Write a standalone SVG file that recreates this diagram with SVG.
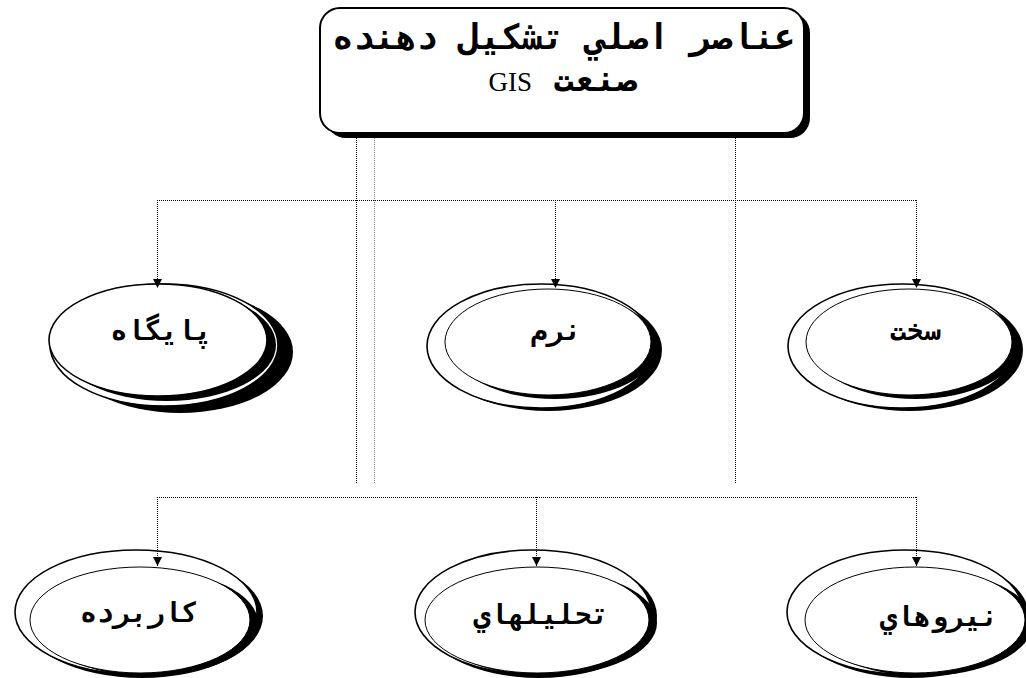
<svg xmlns="http://www.w3.org/2000/svg" width="1026" height="678" viewBox="0 0 1026 678">
<defs>
<style>
.dot{fill:none;stroke:#000;stroke-width:1;stroke-dasharray:1 1;shape-rendering:crispEdges}
.dotg{fill:none;stroke:#888;stroke-width:1;stroke-dasharray:1 1;shape-rendering:crispEdges}
.sh{fill:#000}
.ow{fill:#fff;stroke:#000;stroke-width:1.6}
.iw{fill:#fff;stroke:#000;stroke-width:1}
.lbl{font-family:"DejaVu Sans Mono","DejaVu Sans",sans-serif;font-weight:bold;font-size:28px;fill:#000}
.ttl{font-family:"DejaVu Sans Mono","DejaVu Sans",sans-serif;font-weight:bold;font-size:35px;fill:#000}
.gis{font-family:"Liberation Serif",serif;font-weight:normal;font-size:27px}
</style>
<marker id="ah" viewBox="0 0 10 10" refX="10" refY="5" markerWidth="10" markerHeight="9" orient="auto" markerUnits="userSpaceOnUse">
<path d="M0,0 L10,5 L0,10 Z" fill="#000"/>
</marker>
</defs>
<rect width="1026" height="678" fill="#fff"/>

<g id="title">
<rect x="326" y="13" width="484" height="125" rx="20" class="sh"/>
<rect x="320" y="8" width="484" height="125" rx="20" fill="#fff" stroke="#000" stroke-width="2"/>
<text class="ttl" x="564" y="49" text-anchor="middle" direction="rtl">عناصر اصلي تشكيل دهنده</text>
<text class="ttl" x="563" y="91" text-anchor="middle" direction="rtl">صنعت <tspan class="gis">GIS</tspan></text>
</g>

<g id="node-database">
<ellipse cx="180" cy="352" rx="113" ry="61" class="sh"/>
<ellipse cx="164" cy="345" rx="114" ry="61" class="ow"/>
<ellipse cx="167" cy="345" rx="109" ry="56" class="sh"/>
<ellipse cx="158" cy="340" rx="109" ry="56" class="ow"/>
<text class="lbl" x="161" y="340" text-anchor="middle" direction="rtl">پايگاه</text>
</g>

<g id="node-software">
<ellipse cx="548" cy="350" rx="114" ry="61" class="sh"/>
<ellipse cx="541" cy="346" rx="114" ry="62" class="ow"/>
<ellipse cx="555" cy="346" rx="103" ry="53" class="sh"/>
<ellipse cx="548" cy="342" rx="103" ry="53" class="iw"/>
<text class="lbl" x="556" y="340" text-anchor="middle" direction="rtl">نرم</text>
</g>

<g id="node-hardware">
<ellipse cx="909" cy="350" rx="114" ry="61" class="sh"/>
<ellipse cx="902" cy="346" rx="114" ry="62" class="ow"/>
<ellipse cx="916" cy="346" rx="103" ry="53" class="sh"/>
<ellipse cx="909" cy="342" rx="103" ry="53" class="iw"/>
<text class="lbl" x="915" y="340" text-anchor="middle" direction="rtl">سخت</text>
</g>

<g id="node-applications">
<ellipse cx="142" cy="616" rx="121" ry="62" class="sh"/>
<ellipse cx="136" cy="612" rx="121" ry="62" class="ow"/>
<ellipse cx="148" cy="623" rx="110" ry="53" class="sh"/>
<ellipse cx="140" cy="620" rx="110" ry="53" class="iw"/>
<text class="lbl" x="139" y="622" text-anchor="middle" direction="rtl">كاربرده</text>
</g>

<g id="node-analysis">
<ellipse cx="539" cy="616" rx="118" ry="62" class="sh"/>
<ellipse cx="533" cy="612" rx="118" ry="62" class="ow"/>
<ellipse cx="545" cy="623" rx="112" ry="53" class="sh"/>
<ellipse cx="537" cy="620" rx="112" ry="53" class="iw"/>
<text class="lbl" x="541" y="624" text-anchor="middle" direction="rtl">تحليلهاي</text>
</g>

<g id="node-people">
<ellipse cx="911" cy="616" rx="118" ry="62" class="sh"/>
<ellipse cx="905" cy="612" rx="118" ry="62" class="ow"/>
<ellipse cx="923" cy="623" rx="110" ry="53" class="sh"/>
<ellipse cx="915" cy="620" rx="110" ry="53" class="iw"/>
<text class="lbl" x="939" y="626" text-anchor="middle" direction="rtl">نيروهاي</text>
</g>

<g id="connectors">
<line class="dot" x1="356.5" y1="138" x2="356.5" y2="484"/>
<line class="dotg" x1="374.5" y1="138" x2="374.5" y2="484"/>
<line class="dot" x1="735.5" y1="138" x2="735.5" y2="484"/>
<line class="dot" x1="157" y1="200.5" x2="916" y2="200.5"/>
<line class="dot" x1="157.5" y1="200" x2="157.5" y2="288" marker-end="url(#ah)"/>
<line class="dot" x1="555.5" y1="200" x2="555.5" y2="288" marker-end="url(#ah)"/>
<line class="dot" x1="916.5" y1="200" x2="916.5" y2="288" marker-end="url(#ah)"/>
<line class="dot" x1="157" y1="497.5" x2="916" y2="497.5"/>
<line class="dot" x1="157.5" y1="497" x2="157.5" y2="566" marker-end="url(#ah)"/>
<line class="dot" x1="536.5" y1="497" x2="536.5" y2="566" marker-end="url(#ah)"/>
<line class="dot" x1="916.5" y1="497" x2="916.5" y2="566" marker-end="url(#ah)"/>
</g>
</svg>
